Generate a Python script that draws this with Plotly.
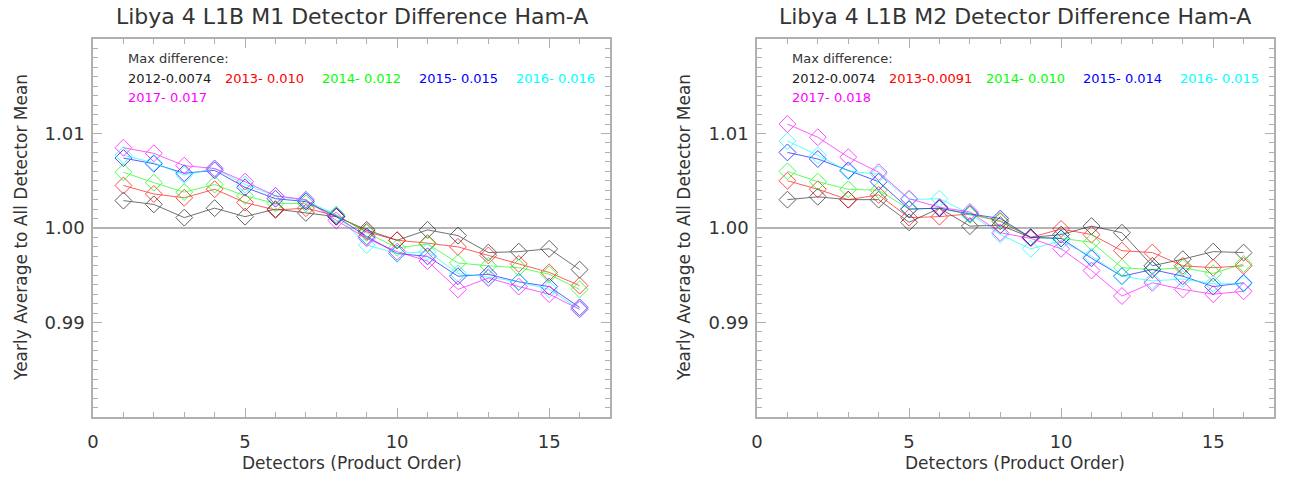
import plotly.graph_objects as go

# ---------------- data ----------------
detectors = list(range(1, 17))
years = ["2012", "2013", "2014", "2015", "2016", "2017"]
colors = ["#202020", "#ff0000", "#00ff00", "#0000ff", "#00ffff", "#ff00ff"]

m1_2012 = [1.0029, 1.0025, 1.0011, 1.0021, 1.0012, 1.0020, 1.0016, 1.0012, 0.9998, 0.9987, 0.9998, 0.9992, 0.9974, 0.9975, 0.9978, 0.9956]
m1_2013 = [1.0045, 1.0036, 1.0032, 1.0041, 1.0027, 1.0019, 1.0021, 1.0013, 0.9996, 0.9987, 0.9984, 0.9980, 0.9971, 0.9962, 0.9953, 0.9939]
m1_2014 = [1.0059, 1.0048, 1.0038, 1.0046, 1.0034, 1.0026, 1.0026, 1.0014, 0.9995, 0.9979, 0.9983, 0.9963, 0.9960, 0.9958, 0.9951, 0.9935]
m1_2015 = [1.0074, 1.0068, 1.0058, 1.0061, 1.0043, 1.0031, 1.0028, 1.0012, 0.9991, 0.9973, 0.9970, 0.9949, 0.9951, 0.9943, 0.9938, 0.9916]
m1_2016 = [1.0077, 1.0069, 1.0056, 1.0063, 1.0046, 1.0034, 1.0029, 1.0014, 0.9982, 0.9973, 0.9975, 0.9952, 0.9948, 0.9943, 0.9935, 0.9914]
m1_2017 = [1.0085, 1.0079, 1.0066, 1.0063, 1.0049, 1.0034, 1.0030, 1.0008, 0.9989, 0.9975, 0.9965, 0.9935, 0.9947, 0.9938, 0.9930, 0.9914]

m2_2012 = [1.0030, 1.0033, 1.0030, 1.0030, 1.0006, 1.0021, 1.0002, 1.0003, 0.9990, 0.9993, 1.0002, 0.9995, 0.9960, 0.9967, 0.9975, 0.9974]
m2_2013 = [1.0050, 1.0041, 1.0030, 1.0035, 1.0011, 1.0012, 1.0015, 1.0007, 0.9990, 0.9999, 0.9993, 0.9976, 0.9974, 0.9960, 0.9958, 0.9960]
m2_2014 = [1.0060, 1.0049, 1.0041, 1.0040, 1.0020, 1.0021, 1.0014, 1.0008, 0.9990, 0.9989, 0.9985, 0.9958, 0.9956, 0.9958, 0.9952, 0.9962]
m2_2015 = [1.0080, 1.0073, 1.0061, 1.0049, 1.0020, 1.0021, 1.0015, 1.0010, 0.9990, 0.9989, 0.9968, 0.9949, 0.9956, 0.9949, 0.9938, 0.9942]
m2_2016 = [1.0092, 1.0077, 1.0060, 1.0057, 1.0030, 1.0031, 1.0015, 0.9993, 0.9978, 0.9986, 0.9970, 0.9949, 0.9944, 0.9946, 0.9941, 0.9941]
m2_2017 = [1.0110, 1.0096, 1.0075, 1.0059, 1.0031, 1.0022, 1.0017, 0.9995, 0.9989, 0.9978, 0.9955, 0.9928, 0.9942, 0.9935, 0.9930, 0.9933]

m1_maxdiff = ["0.0074", " 0.010", " 0.012", " 0.015", " 0.016", " 0.017"]
m2_maxdiff = ["0.0074", "0.0091", " 0.010", " 0.014", " 0.015", " 0.018"]

m1_series = [m1_2012, m1_2013, m1_2014, m1_2015, m1_2016, m1_2017]
m2_series = [m2_2012, m2_2013, m2_2014, m2_2015, m2_2016, m2_2017]

titles = ["Libya 4 L1B M1 Detector Difference Ham-A",
          "Libya 4 L1B M2 Detector Difference Ham-A"]
x_title = "Detectors (Product Order)"
y_title = "Yearly Average to All Detector Mean"
x_tickvals = [0, 5, 10, 15]
y_tickvals = [0.99, 1.00, 1.01]
y_ticktext = ["0.99", "1.00", "1.01"]
ref_level = 1.0
x_range = [0, 17]
y_range = [0.98, 1.02]

# ---------------- figure ----------------
W, H = 1300, 478
FONT = "DejaVu Sans"
TXT = "#333333"
AX = "#b0b0b0"


def fx(p):
    return p / W


def fy(p):
    return 1 - p / H


fig = go.Figure()

panels = [("x", "y", m1_series, m1_maxdiff), ("x2", "y2", m2_series, m2_maxdiff)]
for xa, ya, series, diffs in panels:
    for yr, col, vals in zip(years, colors, series):
        fig.add_trace(go.Scatter(
            x=detectors, y=vals, xaxis=xa, yaxis=ya, mode="lines+markers",
            name=yr, showlegend=False,
            line=dict(color=col, width=0.9),
            marker=dict(symbol="diamond-open", size=13, color=col, line=dict(width=1, color=col)),
            opacity=0.7,
        ))

x_domains = [[fx(93), fx(610)], [fx(757), fx(1274)]]
y_domain = [fy(417), fy(39)]


def xaxis_cfg(dom, anchor):
    return dict(domain=dom, anchor=anchor, range=x_range, tickmode="array", tickvals=x_tickvals,
                ticks="inside", ticklen=9, tickcolor=AX, tickwidth=1,
                minor=dict(tickmode="linear", tick0=0, dtick=1, ticks="inside", ticklen=5, tickcolor=AX),
                showline=True, linecolor=AX, linewidth=1.5, mirror="allticks",
                showgrid=False, zeroline=False, automargin=False,
                tickfont=dict(family=FONT, size=18, color=TXT), ticklabelstandoff=8)


def yaxis_cfg(anchor):
    return dict(domain=y_domain, anchor=anchor, range=y_range, tickmode="array",
                tickvals=y_tickvals, ticktext=y_ticktext,
                ticks="inside", ticklen=9, tickcolor=AX, tickwidth=1,
                minor=dict(tickmode="linear", tick0=0.98, dtick=0.001, ticks="inside", ticklen=5, tickcolor=AX),
                showline=True, linecolor=AX, linewidth=1.5, mirror="allticks",
                showgrid=False, zeroline=False, automargin=False,
                tickfont=dict(family=FONT, size=18, color=TXT), ticklabelstandoff=3)


fig.update_layout(
    width=W, height=H, margin=dict(l=0, r=0, t=0, b=0, pad=0), autosize=False,
    paper_bgcolor="white", plot_bgcolor="white",
    xaxis=xaxis_cfg(x_domains[0], "y"), yaxis=yaxis_cfg("x"),
    xaxis2=xaxis_cfg(x_domains[1], "y2"), yaxis2=yaxis_cfg("x2"),
)

# reference line
for xa, ya in [("x", "y"), ("x2", "y2")]:
    fig.add_shape(type="line", xref=f"{xa} domain", yref=ya, x0=0, x1=1, y0=ref_level, y1=ref_level,
                  line=dict(color="#b4b4b4", width=1.8), layer="below")

annotations = []
ylab_x = [fx(21), fx(684)]
for k, (xa, ya, series, diffs) in enumerate(panels):
    dom = x_domains[k]
    xc = (dom[0] + dom[1]) / 2
    annotations.append(dict(text=titles[k], xref="paper", yref="paper", x=xc, y=fy(17),
                            xanchor="center", yanchor="middle", showarrow=False,
                            font=dict(family=FONT, size=22, color=TXT)))
    annotations.append(dict(text=x_title, xref="paper", yref="paper", x=xc, y=fy(463),
                            xanchor="center", yanchor="middle", showarrow=False,
                            font=dict(family=FONT, size=17, color=TXT)))
    annotations.append(dict(text=y_title, xref="paper", yref="paper", x=ylab_x[k],
                            y=(y_domain[0] + y_domain[1]) / 2,
                            xanchor="center", yanchor="middle", showarrow=False, textangle=-90,
                            font=dict(family=FONT, size=17, color=TXT)))
    # legend text block
    annotations.append(dict(text="Max difference:", xref=f"{xa} domain", yref=f"{ya} domain",
                            x=33 / 517, y=(417 - 58) / 378, xanchor="left", yanchor="middle",
                            showarrow=False, font=dict(family=FONT, size=13, color=TXT)))
    for i, (yr, col, d) in enumerate(zip(years, colors, diffs)):
        row = 0 if i < 5 else 1
        colidx = i if i < 5 else 0
        yy = (417 - 78) / 378 if row == 0 else (417 - 97) / 378
        annotations.append(dict(text=f"{yr}-{d}".replace(" ", "&nbsp;"), xref=f"{xa} domain",
                                yref=f"{ya} domain",
                                x=(33 + 97 * colidx) / 517, y=yy, xanchor="left", yanchor="middle",
                                showarrow=False, font=dict(family=FONT, size=13, color=col)))

fig.update_layout(annotations=annotations)

fig.write_html("out.html", config={"displayModeBar": False},
               post_script="document.body.style.margin='0';")
